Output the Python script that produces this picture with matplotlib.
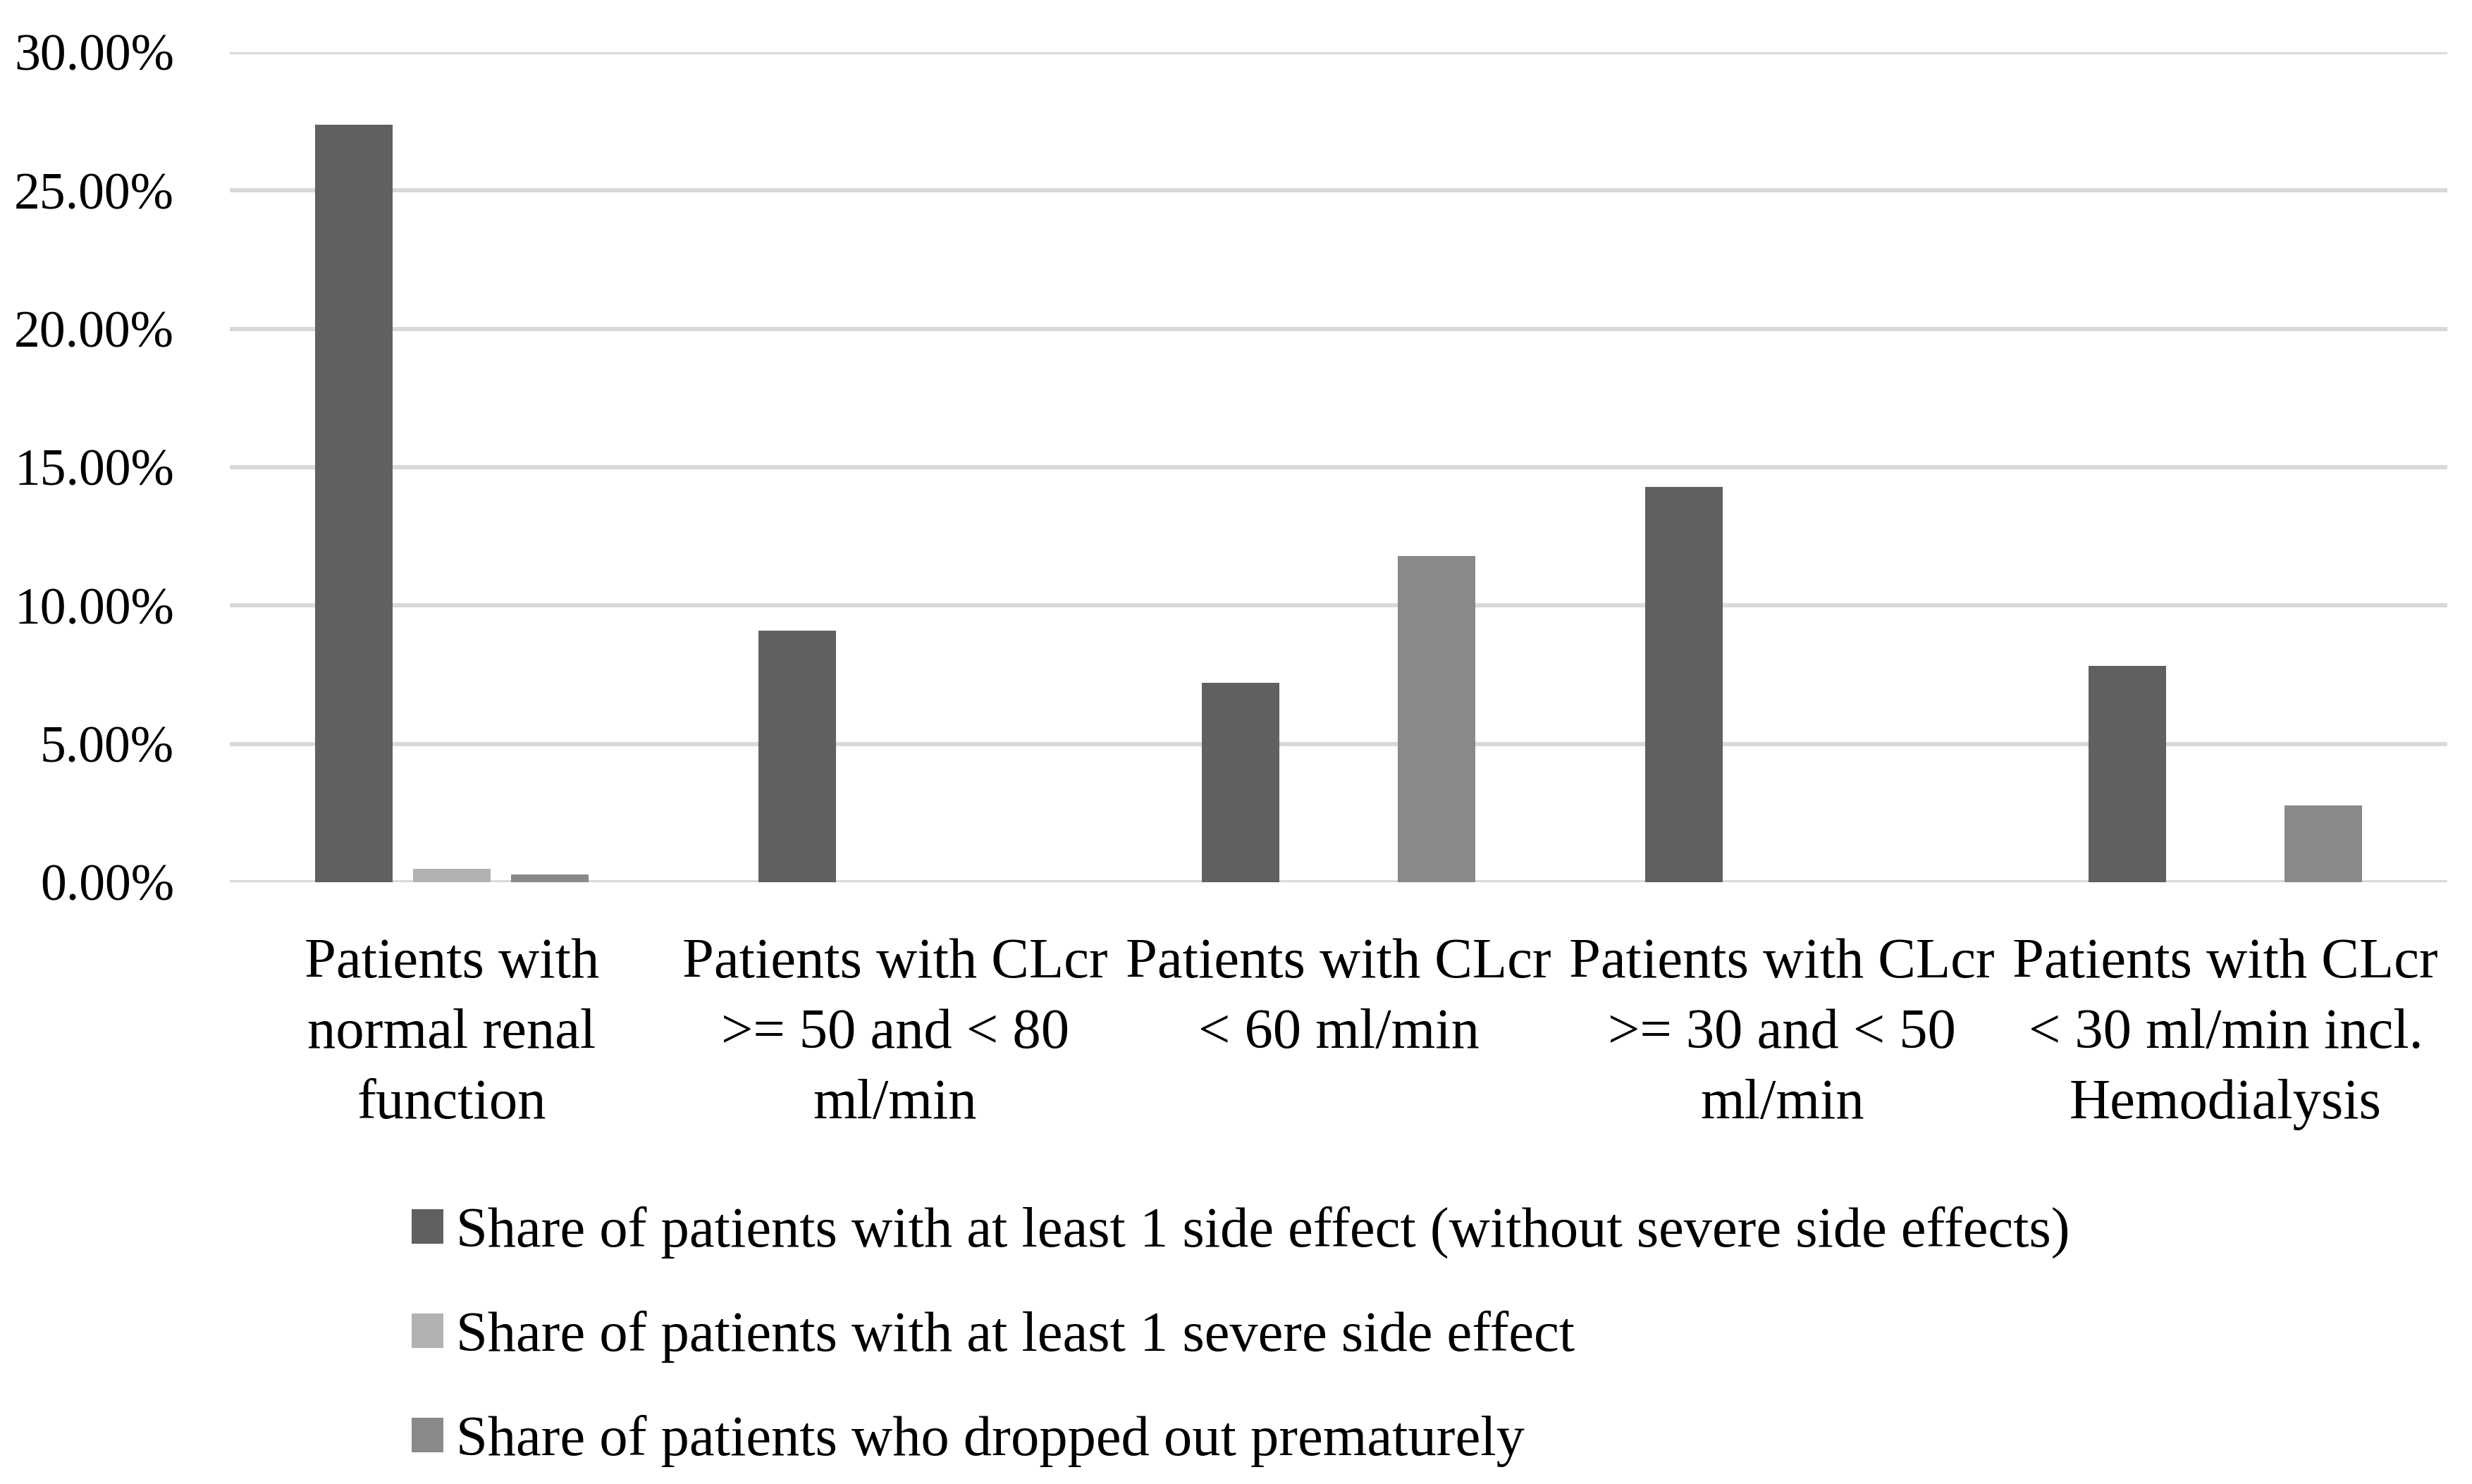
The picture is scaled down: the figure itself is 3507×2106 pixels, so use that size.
import matplotlib
matplotlib.use("Agg")
import matplotlib.pyplot as plt
import numpy as np
from matplotlib.patches import Patch
from matplotlib.ticker import FuncFormatter

categories = [
    "Patients with\nnormal renal\nfunction",
    "Patients with CLcr\n>= 50 and < 80\nml/min",
    "Patients with CLcr\n< 60 ml/min",
    "Patients with CLcr\n>= 30 and < 50\nml/min",
    "Patients with CLcr\n< 30 ml/min incl.\nHemodialysis",
]
series_names = [
    "Share of patients with at least 1 side effect (without severe side effects)",
    "Share of patients with at least 1 severe side effect",
    "Share of patients who dropped out prematurely",
]
side_effect = [0.2738, 0.0909, 0.0721, 0.1429, 0.0782]
severe = [0.0048, 0.0, 0.0, 0.0, 0.0]
dropped_out = [0.0028, 0.0, 0.1179, 0.0, 0.0278]
colors = ["#606060", "#b2b2b2", "#898989"]

plt.rcParams["font.family"] = ["Liberation Serif", "DejaVu Serif"]
TICK_FS = 53
TEXT_FS = 58

fig = plt.figure(figsize=(35.07, 21.06), dpi=100)
ax = fig.add_axes([0.093, 0.4055, 0.897, 0.5594])

x = np.arange(len(categories))
width = 0.175
step = 0.221
for i, (vals, name) in enumerate(zip([side_effect, severe, dropped_out], series_names)):
    ax.bar(x + (i - 1) * step, vals, width=width, color=colors[i], label=name, zorder=3)

ax.set_xlim(-0.5, len(categories) - 0.5)
ax.set_ylim(0, 0.30)
ax.set_yticks(np.arange(0, 0.301, 0.05))
ax.yaxis.set_major_formatter(FuncFormatter(lambda v, _: f"{v * 100:.2f}%"))
ax.grid(axis="y", color="#d9d9d9", linewidth=4.3)
ax.set_axisbelow(True)
for s in ax.spines.values():
    s.set_visible(False)
ax.tick_params(axis="y", length=0, pad=57, labelsize=TICK_FS)
ax.tick_params(axis="x", length=0, pad=57, labelsize=TEXT_FS)
ax.set_xticks(x)
ax.set_xticklabels(categories, linespacing=1.48, ha="center", va="top")

handles = [Patch(facecolor=c) for c in colors]
fig.legend(handles, series_names, loc="center left", bbox_to_anchor=(0.1665, 0.0993),
           frameon=False, fontsize=TEXT_FS, handlelength=0.56, handleheight=0.56,
           handletextpad=0.22, labelspacing=0.92, borderpad=0, borderaxespad=0)

fig.savefig("out.png", dpi=100)
